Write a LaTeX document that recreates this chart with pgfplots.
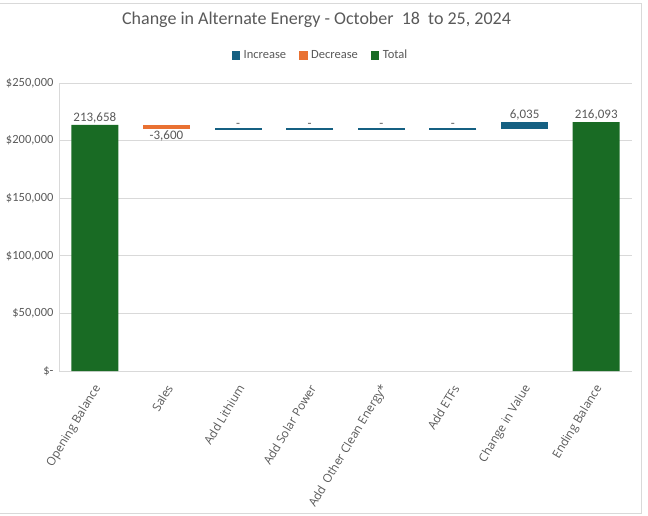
\documentclass[border=0pt]{standalone}
\usepackage{pgfplots}
\pgfplotsset{compat=1.18}
\usepackage{fontspec}
\setmainfont{Carlito}
\newfontfamily\xfont{Open Sans}

\definecolor{incblue}{HTML}{156082}
\definecolor{decorange}{HTML}{E97132}
\definecolor{totgreen}{HTML}{196B24}
\definecolor{txtgray}{HTML}{595959}
\definecolor{gridgray}{HTML}{D9D9D9}

\begin{document}
\begin{tikzpicture}
  \begin{axis}[
    width=573pt, height=288pt,
    scale only axis,
    at={(0,0)}, anchor=south west,
    xmin=-0.5, xmax=7.5,
    ymin=0, ymax=250000,
    scaled y ticks=false,
    axis line style={gridgray},
    axis x line*=bottom,
    axis y line*=left,
    ymajorgrids,
    grid style={gridgray, line width=0.8pt},
    major tick length=0pt,
    xtick={0,...,7},
    xticklabels={Opening Balance, Sales, Add Lithium, Add Solar Power,
      Add\ \,Other Clean Energy*, Add ETFs, Change in Value, Ending Balance},
    xticklabel style={rotate=59, anchor=east, font=\xfont\fontsize{11.8}{14}\selectfont,
      text=txtgray, inner sep=1pt, yshift=-10.5pt, xshift=-10pt},
    ytick={0,50000,100000,150000,200000,250000},
    yticklabels={{\$-}, {\$50,000}, {\$100,000}, {\$150,000}, {\$200,000}, {\$250,000}},
    yticklabel style={font=\fontsize{12.5}{14}\selectfont, text=txtgray, xshift=-2pt},
    title={Change in Alternate Energy - October~~18~~to 25, 2024},
    title style={at={(0.5,1)}, anchor=center, yshift=57pt, xshift=-29pt,
      font=\fontsize{18}{21}\selectfont, text=txtgray},
    legend columns=3,
    legend style={at={(0.5,1)}, anchor=center, yshift=28pt, xshift=-25pt, draw=none,
      font=\fontsize{12.5}{14}\selectfont, text=txtgray,
      /tikz/every even column/.append style={column sep=11pt},
      /tikz/every odd column/.append style={column sep=2pt}},
    legend cell align=left,
    clip=false,
  ]
    % totals
    \addplot[ybar, bar width=47pt, bar shift=0pt, fill=totgreen, draw=none, forget plot]
      coordinates {(0,213658) (7,216093)};
    % decrease: bottom value plus the change
    \addplot[draw=none, mark=none, forget plot,
      error bars/.cd, y dir=plus, y explicit,
      error bar style={line width=47pt, decorange}, error mark=none]
      coordinates {(1,210058) +- (0,3600)};
    % increase
    \addplot[draw=none, mark=none, forget plot,
      error bars/.cd, y dir=plus, y explicit,
      error bar style={line width=47pt, incblue}, error mark=none]
      coordinates {(6,210058) +- (0,6035)};
    % zero changes
    \addplot[only marks, mark=-, mark size=23.5pt,
      mark options={incblue, line width=1.6pt}, forget plot]
      coordinates {(2,210058) (3,210058) (4,210058) (5,210058)};
    % data labels above
    \addplot[draw=none, mark=none, forget plot,
      point meta=explicit symbolic, nodes near coords,
      every node near coord/.append style={anchor=south, inner sep=1.5pt,
        font=\fontsize{13}{15}\selectfont, text=txtgray}]
      coordinates {(0,213658) [213,658] (2,210058) [-] (3,210058) [-]
        (4,210058) [-] (5,210058) [-] (6,216093) [6,035] (7,216093) [216,093]};
    % data label below
    \addplot[draw=none, mark=none, forget plot,
      point meta=explicit symbolic, nodes near coords,
      every node near coord/.append style={anchor=north, inner sep=1.5pt,
        font=\fontsize{13}{15}\selectfont, text=txtgray}]
      coordinates {(1,210058) [-3,600]};
    \addlegendimage{legend image code/.code={\fill[incblue] (0pt,-3.8pt) rectangle (7.6pt,3.8pt);}}
    \addlegendentry{Increase}
    \addlegendimage{legend image code/.code={\fill[decorange] (0pt,-3.8pt) rectangle (7.6pt,3.8pt);}}
    \addlegendentry{Decrease}
    \addlegendimage{legend image code/.code={\fill[totgreen] (0pt,-3.8pt) rectangle (7.6pt,3.8pt);}}
    \addlegendentry{Total}
  \end{axis}
  \path[use as bounding box] (-59pt,-144pt) rectangle (589pt,371pt);
  \draw[gridgray, line width=0.8pt] (-59pt,368pt) -- (582pt,368pt) -- (582pt,-142pt) -- (-59pt,-142pt);
\end{tikzpicture}
\end{document}
